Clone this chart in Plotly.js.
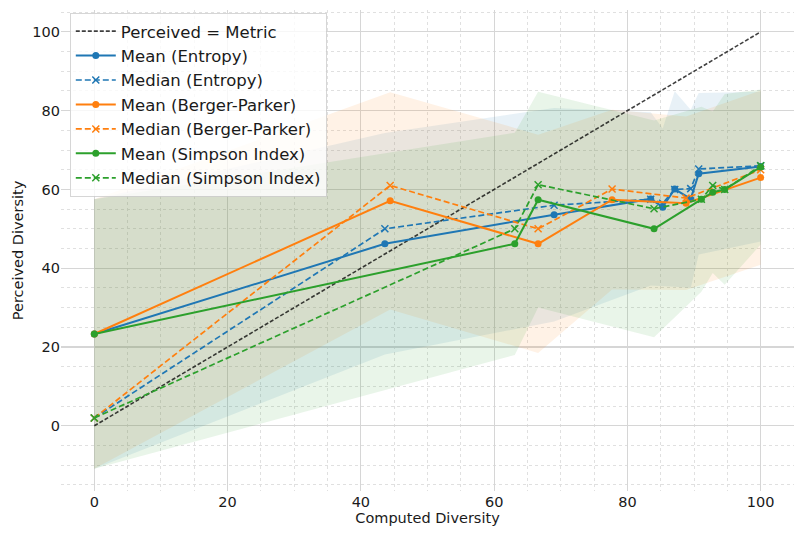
<!DOCTYPE html>
<html>
<head>
<meta charset="utf-8">
<script src="https://cdn.plot.ly/plotly-3.0.1.min.js"></script>
<style>
  html, body { margin: 0; padding: 0; background: #ffffff; }
  #chart { width: 802px; height: 533px; }
</style>
</head>
<body>
<div id="chart"></div>
<script>
// Reference diagonal: perceived equals the computed metric
const identityX = [0, 100];
const identityY = [0, 100];

// Entropy
const entropyX      = [0, 43.6, 69.0, 83.5, 85.3, 87.1, 89.5, 90.7, 100];
const entropyMean   = [23.3, 46.2, 53.6, 57.6, 55.5, 60.1, 57.6, 64.0, 65.8];
const entropyMedian = [2.0, 50.0, 56.0, 57.5, 56.5, 60.0, 60.2, 65.2, 66.0];
const entropySd     = [34.2, 28.1, 27.1, 22.0, 20.0, 24.8, 22.6, 20.5, 19.0];

// Berger-Parker
const bpX      = [0, 44.4, 66.6, 77.7, 88.8, 100];
const bpMean   = [23.3, 57.1, 46.2, 57.4, 56.5, 63.0];
const bpMedian = [2.0, 61.0, 50.0, 60.1, 57.8, 65.0];
const bpSd     = [34.2, 27.6, 27.7, 22.8, 22.0, 22.1];

// Simpson Index
const simpsonX      = [0, 63.1, 66.6, 84.0, 91.1, 92.8, 94.6, 100];
const simpsonMean   = [23.3, 46.2, 57.4, 50.0, 57.5, 59.3, 60.0, 65.7];
const simpsonMedian = [2.0, 50.0, 61.2, 55.1, 57.5, 61.0, 60.0, 66.0];
const simpsonSd     = [34.2, 28.2, 27.4, 27.5, 23.5, 20.5, 24.2, 19.7];

const xTicks = [0, 20, 40, 60, 80, 100];
const yTicks = [0, 20, 40, 60, 80, 100];

const metrics = [
  { name: 'Entropy',       x: entropyX, mean: entropyMean, median: entropyMedian, sd: entropySd, rgb: '31,119,180' },
  { name: 'Berger-Parker', x: bpX,      mean: bpMean,      median: bpMedian,      sd: bpSd,      rgb: '255,127,14' },
  { name: 'Simpson Index', x: simpsonX, mean: simpsonMean, median: simpsonMedian, sd: simpsonSd, rgb: '44,160,44' }
];

const FONT = 'DejaVu Sans, sans-serif';
const traces = [];

// Shaded mean ± sd bands, drawn underneath everything else
metrics.forEach(m => {
  const upper = m.mean.map((v, i) => v + m.sd[i]);
  const lower = m.mean.map((v, i) => v - m.sd[i]);
  traces.push({
    x: m.x.concat(m.x.slice().reverse()),
    y: upper.concat(lower.slice().reverse()),
    type: 'scatter', mode: 'lines',
    fill: 'toself',
    fillcolor: 'rgba(' + m.rgb + ',0.1)',
    line: { width: 0 },
    hoverinfo: 'skip',
    showlegend: false
  });
});

traces.push({
  x: identityX, y: identityY,
  type: 'scatter', mode: 'lines',
  name: 'Perceived = Metric',
  line: { color: 'rgba(0,0,0,0.75)', width: 1.6, dash: '4px,2px' }
});

metrics.forEach(m => {
  const col = 'rgb(' + m.rgb + ')';
  traces.push({
    x: m.x, y: m.mean,
    type: 'scatter', mode: 'lines+markers',
    name: 'Mean (' + m.name + ')',
    line: { color: col, width: 2 },
    marker: { color: col, size: 7, symbol: 'circle' }
  });
  traces.push({
    x: m.x, y: m.median,
    type: 'scatter', mode: 'lines+markers',
    name: 'Median (' + m.name + ')',
    line: { color: col, width: 1.7, dash: '6px,3px' },
    marker: { color: col, size: 7, symbol: 'x-thin', line: { color: col, width: 1.5 } }
  });
});

const gridMajor = '#d6d6d6';
const gridMinor = '#e0e0e0';

const layout = {
  width: 802, height: 533,
  margin: { l: 61, r: 8, t: 10, b: 42 },
  paper_bgcolor: '#ffffff',
  plot_bgcolor: '#ffffff',
  font: { family: FONT, color: '#1a1a1a', size: 14 },
  showlegend: true,
  legend: {
    x: 0.012, y: 0.994, xanchor: 'left', yanchor: 'top',
    bgcolor: 'rgba(255,255,255,0.8)',
    bordercolor: 'rgba(204,204,204,0.8)', borderwidth: 1,
    itemwidth: 40,
    font: { family: FONT, size: 16.5, color: '#1a1a1a' },
    traceorder: 'normal'
  },
  xaxis: {
    range: [-5, 105],
    tickvals: xTicks,
    ticks: '', showline: false, zeroline: false,
    showgrid: true, gridcolor: gridMajor, gridwidth: 1.2,
    minor: { dtick: 5, tick0: 0, showgrid: true, gridcolor: gridMinor, gridwidth: 1, griddash: 'dot' },
    tickfont: { family: FONT, size: 14.5, color: '#1a1a1a' },
    title: { text: 'Computed Diversity', font: { family: FONT, size: 14.5, color: '#1a1a1a' }, standoff: 4 }
  },
  yaxis: {
    range: [-16.55, 105.55],
    tickvals: yTicks,
    ticks: '', showline: false, zeroline: false,
    showgrid: true, gridcolor: gridMajor, gridwidth: 1.2,
    minor: { dtick: 5, tick0: 0, showgrid: true, gridcolor: gridMinor, gridwidth: 1, griddash: 'dot' },
    tickfont: { family: FONT, size: 14.5, color: '#1a1a1a' },
    title: { text: 'Perceived Diversity', font: { family: FONT, size: 14.5, color: '#1a1a1a' }, standoff: 5 }
  }
};

Plotly.newPlot('chart', traces, layout, { staticPlot: true, displayModeBar: false });
</script>
</body>
</html>
